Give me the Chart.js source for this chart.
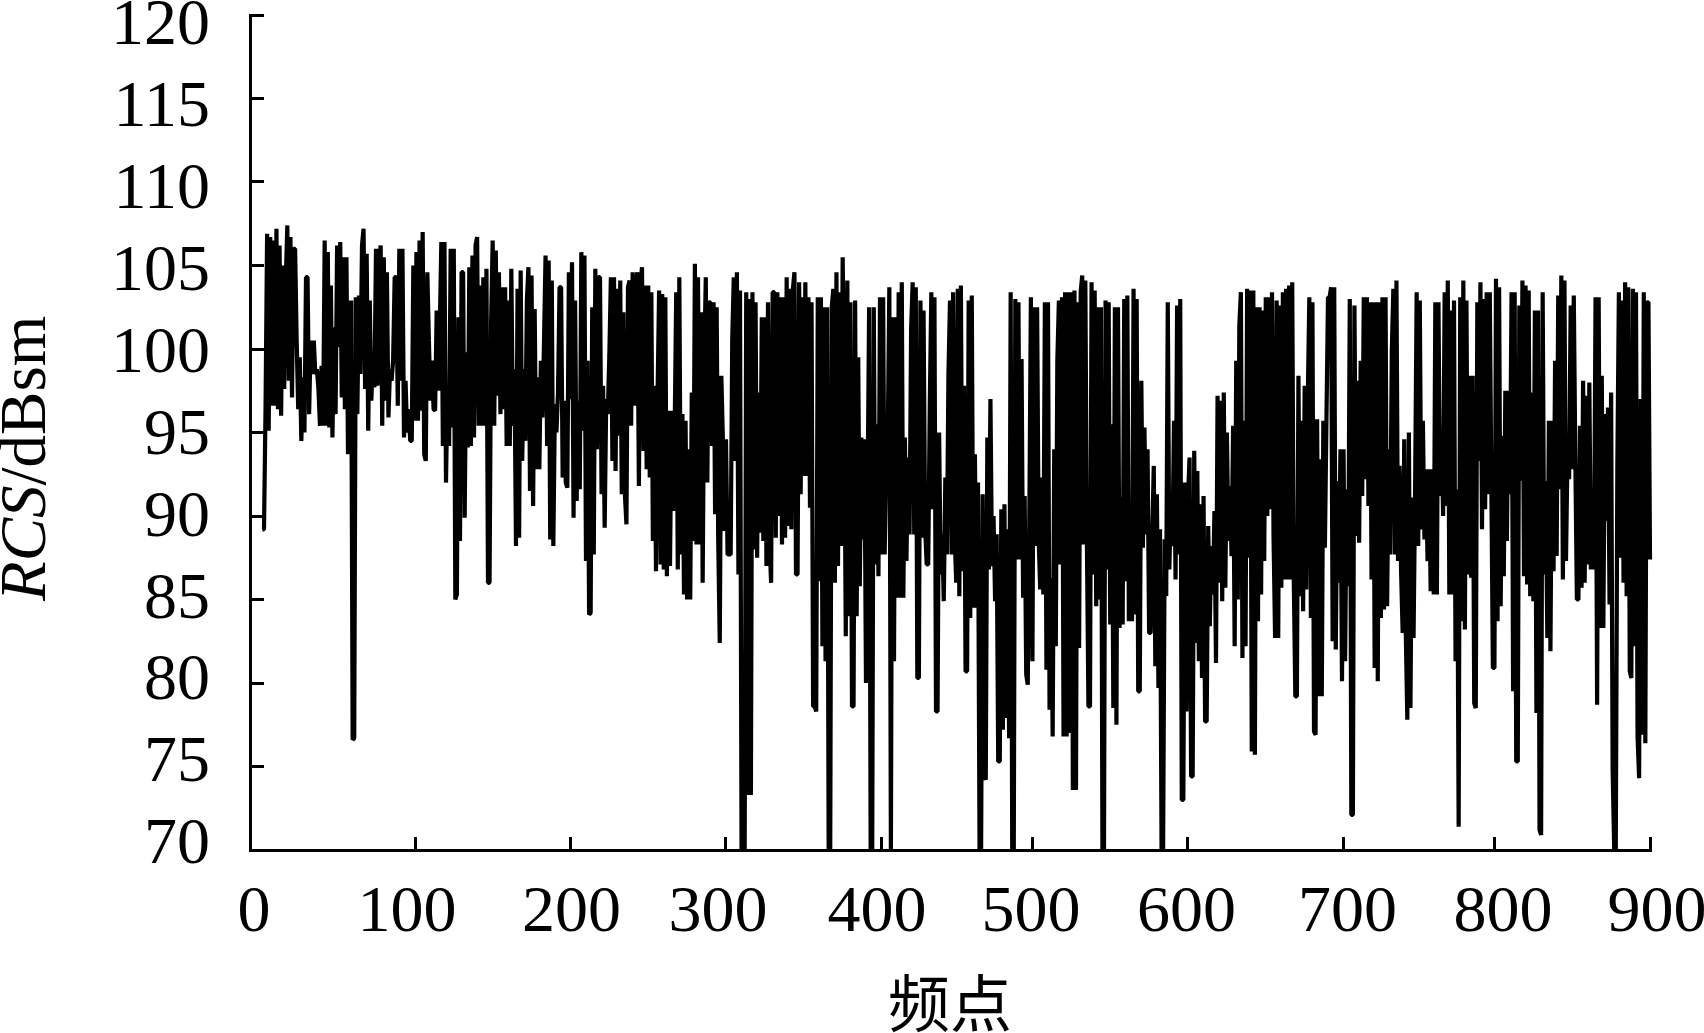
<!DOCTYPE html>
<html>
<head>
<meta charset="utf-8">
<title>RCS</title>
<style>
    html, body { margin: 0; padding: 0; background: #fff; }
    #chartBox { position: relative; width: 1704px; height: 1033px; }
</style>
<script src="https://cdn.jsdelivr.net/npm/chart.js@4/dist/chart.umd.js"></script>
</head>
<body>
<div id="chartBox"><canvas id="rcsChart" width="1704" height="1033"></canvas></div>
<script>
// values, one per frequency point, starting at firstPoint
const firstPoint = 8;
const rcsValues = [
    89.2,89.2,96.5,106.9,95.1,106.7,96.6,106.5,96.6,107.2,96.4,106.2,96,105,97.6,104.1,107.4,98.1,106.7,97.1,
    106,106,100.5,96.4,99.5,94.5,98.3,95,104.3,104.3,96.1,100.5,98.5,100.5,98.5,98.8,97.6,95.4,99,95.4,
    106.5,95.4,105.8,95.3,103.8,94.7,101.3,96.1,106.2,100.1,106.4,97.1,105.5,96.4,105.5,93.7,100.7,102.9,76.6,76.7,
    103.1,96.1,103.2,98.5,106.2,107.2,97.6,105.7,95.1,102.9,96.9,99.4,97.7,106,97.8,105.3,106.2,95.4,105.5,96.9,
    104.6,95.9,98.8,98.1,99.3,104.3,104.3,96.6,106,98.1,106,94.7,98.1,95,96.4,94.5,94.5,105,95.7,105.8,
    95.7,106.5,96.3,107,93.7,93.3,104.6,100.5,96.9,99.3,96.4,96.3,102.3,97.5,101.2,106.4,94.2,106.4,92,97.8,
    94.2,106,95.3,106,85,85.3,101.9,
    88.5,104.6,104.6,89.9,99.8,94.1,104.9,94.2,105.6,94.7,106.2,106.7,95.4,103.8,95.4,104.3,95.4,104.8,86,86,
    101.6,106.5,95.4,105.9,97.2,104.6,96.1,103.7,96.4,103.7,94.2,102.9,94.2,104.8,95.4,98.8,88.2,103.6,88.7,104.7,
    93.3,98.8,94.5,102.9,104.9,91.5,104.4,90.6,102.4,92.8,98.3,92.8,99.3,95.9,100.4,105.6,94.2,105.3,88.6,104.1,
    88.2,96.7,95,97.4,103.7,103.7,92.3,96.9,92,91.7,104.6,97,105.2,89.9,102.9,90.9,96.9,91.6,105.8,95.1,
    105.6,87.3,99.3,84.1,84.2,102.5,87.7,104.8,94,104.3,104.3,91.3,97.8,89.3,97,96.1,99.6,104.3,93.3,104.3,
    92.7,103.6,94.8,104.1,91.3,102.2,91.3,89.5,103.7,104.1,95.4,104.6,96.6,103.8,104.6,91.8,103.8,104.9,93.9,103.8,
    92.8,103.8,92.3,103.4,88.5,97.8,86.7,97.2,103.5,
    87.1,103.3,86.8,103.1,86.4,96.3,87,96.3,90.3,95.1,103.4,86.8,104.3,87.7,96.1,85.3,95.7,85,94,85,
    97.4,88.5,105.1,88.3,104.3,88.3,102.2,86,99,104.3,92,102.8,102.8,94.2,102.8,90.1,102.5,88.5,82.4,98.4,
    94.6,89.1,94.6,87.7,87.7,87.7,100.5,104.3,93.3,104.6,86.5,103.5,70,70,70,103.4,73.3,103,73.3,103.4,
    88,102.8,87.5,97.4,89,101.9,88.5,101.9,87,102.8,88.5,86,103.4,103.4,88.7,103.4,90,103.1,88.3,103.1,
    88.7,104.3,89.4,103.6,89.2,103.6,104.6,86.5,86.5,104,91.3,103.1,92.4,104,92.4,103.1,90.5,102.8,78.6,78.6,
    78.3,103.1,86.1,103.1,82.2,102.5,81.3,102.5,70,70,102.5,103.6,86,104.6,87,103.4,88.2,105.5,97.6,82.8,
    104.1,84,102.8,78.6,78.6,102.9,84,99.5,
    85.8,94.7,88.6,94.6,80,90.9,102.5,70,70,102.5,87.1,95.5,86.4,103.1,87.7,103.1,87.7,93,94.6,103.7,
    70,101.9,81.3,101.9,85.1,103.4,85.1,104,85.1,94.7,87.3,93.5,88.9,101.2,104,88.9,103.7,80.3,80.3,102.9,
    88.7,102.3,89.4,87.1,87.1,96.6,103.4,90.4,103.1,78.3,78.3,95,86.5,88.9,84.9,92.3,87.7,98.5,102.9,87.7,
    103.4,88.8,86,103.6,85.2,103.8,86.7,97.8,80.7,80.7,102.9,83.9,103.2,84.5,93.7,84.5,92,70,70,91.3,
    74.5,74.2,94.7,86.8,97,87,90,84.9,88.9,75.3,75.3,90.4,77.2,90.7,77.9,89.2,76.7,103.4,70,70,
    103,87.4,102.8,87.4,99.4,85.1,91.2,80.5,79.9,89.8,103.1,81.3,102.5,88.2,102.5,88.6,85.6,92.3,85.3,102.8,
    80.8,102.8,78.4,86.3,76.8,94,82.2,99.3,102.9,
    87.1,103.1,76.8,103.4,76.8,103.4,77,103.4,73.6,103.5,73.6,102.8,82.1,103.4,104.4,88.3,104.1,88.5,78.6,78.6,
    104,86.5,103.5,84.6,102.5,85,102.5,70,70,102.9,86.8,102.8,83.5,95.5,78.5,102.5,77.5,102.5,83.3,91.1,
    83.5,103,86.1,103.2,83.7,90.1,83.7,103.6,84.1,103,79.5,79.5,98.1,88.1,95.3,88.9,94,83,83,88.9,
    93,81,91.3,79.7,89.2,70,70,88.6,85.2,102.8,86.8,90.9,88.2,95.7,86.2,102.6,87.7,103,73,73,
    92,78.3,91.1,93.5,74.4,74.4,93.9,82.4,92.7,81.3,90.7,80.3,91.2,77.7,77.7,89.4,83.4,88.2,85.3,90.3,
    81.2,97.2,86,96.9,84.9,97.4,85.7,95,88.5,91.8,87.6,95.4,82.2,99.3,85,101.4,103.4,81.5,95.7,82.2,
    103.6,87.5,103.5,75.9,103.5,75.7,102.5,83.7,
    102.5,85.3,102.3,87.3,103.1,90,103.1,90.4,103.4,88.7,82.7,102.9,82.7,102.6,85.7,103.4,86.2,103.6,86.2,103.8,
    86.2,104,86.2,79.2,79.2,98.4,85.2,95.7,84.3,97.8,85.6,97,103.1,83.9,102.8,77.1,76.9,95.8,79.2,93.4,
    79.2,95.7,88.1,95.7,103.1,103.1,103.7,82.5,103.7,82,92.1,86,94,80.1,94,81.3,91.6,85.8,103,72.1,
    72.1,102.6,88.8,98.1,88.4,99.3,91.2,103.1,92.2,103.1,90.6,102.8,86.2,102.8,80.9,102.8,80.1,102.8,83.9,103.1,
    84.4,103.1,84.6,94,87.7,99.8,103.6,87.7,104.1,87.3,93,86.6,83,94.6,83,77.8,95,78.5,91.1,82.7,
    91.6,103.4,88.2,102.9,89.2,95.7,88.6,92.8,87.3,92.8,85.5,92.8,85.3,102.8,85.3,102.8,91.2,95.1,90,103.4,
    90.6,104.1,85.3,102.3,85.3,102.9,81.3,91.6,71.4,
    103.1,83.7,104.1,83.2,102.9,86.5,98.4,86.3,98.4,78.8,78.5,102.8,93.3,104,89.2,103,90.4,103.4,91.3,103.4,
    92,80.9,80.9,104.2,83.7,103.7,84.6,94.8,86.4,97.5,88.5,97.5,91.3,103.4,79.5,103.4,75.3,75.3,102.6,92.1,
    104.1,86.4,103.8,85.9,103.5,85.2,97.4,84.9,102.3,78.2,102.3,71.2,70.9,103.4,86.5,92.1,82.7,95.7,81.9,95.7,
    86.7,99.3,87.6,103.2,91.6,104.4,86.2,104.1,87.3,94.1,92.2,102.6,92.8,103.2,93.4,85,85,95.4,85.7,98.1,
    86,97.2,87.1,98,86.8,91.6,86.8,103.1,78.7,103.1,83.3,98.4,83.3,96.1,89.7,96.5,84.7,97.4,74.7,70,
    70,92.9,103.4,87.5,102.9,86,104,85.2,103.7,80.7,80.3,103.6,82.2,103.4,76.8,74.3,97,76.9,103.4,76.4,
    102.8,102.8,87.4
];

const yTickLabels = ['120', '115', '110', '105', '100', '95', '90', '85', '80', '75', '70'];
const xTickLabels = ['0', '100', '200', '300', '400', '500', '600', '700', '800', '900'];
const xAxisTitle = '频点';

// the printed axis is uneven: the marks and the numbers do not sit on round values
const xMarkAt = [0, 106.1, 205.9, 305.8, 405.8, 502.9, 602.8, 702.8, 799.9, 900];
const xNumberAt = [2.6, 100.9, 206.7, 300.8, 403, 502, 602, 705.5, 805.5, 904.5];

const serif = 'Liberation Serif';

function fixSize(scale, size) {
    if (scale.isHorizontal()) scale.height = size; else scale.width = size;
    scale.paddingLeft = scale.paddingRight = scale.paddingTop = scale.paddingBottom = 0;
}

// y title mixes italic and upright text, which a scale title can't do
const yTitlePlugin = {
    id: 'yTitle',
    afterDraw(chart) {
        const ctx = chart.ctx;
        ctx.save();
        ctx.translate(45, 601);
        ctx.rotate(-Math.PI / 2);
        ctx.fillStyle = '#000';
        ctx.textBaseline = 'alphabetic';
        ctx.font = `italic 65px "${serif}"`;
        ctx.fillText('RCS', 0, 0);
        const w = ctx.measureText('RCS').width;
        ctx.font = `65px "${serif}"`;
        ctx.fillText('/dBsm', w, 0);
        ctx.restore();
    }
};

new Chart(document.getElementById('rcsChart').getContext('2d'), {
    type: 'line',
    data: {
        datasets: [{
            data: rcsValues.map((y, i) => ({ x: firstPoint + i, y: y })),
            xAxisID: 'x',
            yAxisID: 'y',
            borderColor: '#000',
            borderWidth: 4.2,
            borderJoinStyle: 'bevel',
            pointRadius: 0,
            tension: 0,
            clip: false
        }]
    },
    options: {
        responsive: false,
        animation: false,
        layout: { padding: { top: 15, right: 54, left: 0, bottom: 0 } },
        plugins: { legend: { display: false }, tooltip: { enabled: false } },
        scales: {
            x: {
                type: 'linear',
                min: 0,
                max: 900,
                afterBuildTicks: s => { s.ticks = xMarkAt.map(v => ({ value: v })); },
                afterFit: s => fixSize(s, 0),
                ticks: { display: false },
                border: { display: true, color: '#000', width: 3 },
                grid: { drawOnChartArea: false, tickLength: -13, tickWidth: 3, tickColor: '#000' }
            },
            y: {
                type: 'linear',
                min: 70,
                max: 120,
                ticks: { display: false, stepSize: 5 },
                afterFit: s => fixSize(s, 0),
                border: { display: true, color: '#000', width: 3 },
                grid: { drawOnChartArea: false, tickLength: -14, tickWidth: 3, tickColor: '#000' }
            },
            // the numbers get their own axes, they drift away from the marks in the original
            xNumbers: {
                type: 'linear',
                position: 'bottom',
                weight: 1,
                min: 0,
                max: 900,
                afterBuildTicks: s => { s.ticks = xNumberAt.map(v => ({ value: v })); },
                afterFit: s => fixSize(s, 183),
                border: { display: false },
                grid: { display: false, drawTicks: false },
                ticks: {
                    autoSkip: false,
                    maxRotation: 0,
                    padding: 24,
                    color: '#000',
                    font: { family: serif, size: 66 },
                    callback: (v, i) => xTickLabels[i]
                },
                title: {
                    display: true,
                    text: xAxisTitle,
                    color: '#000',
                    font: { family: 'Noto Sans CJK SC', size: 62 },
                    padding: { top: 0, bottom: -8 }
                }
            },
            yNumbers: {
                type: 'linear',
                position: 'left',
                weight: 1,
                min: 69.75,
                max: 120.73,
                afterBuildTicks: s => { s.ticks = yTickLabels.map(Number).reverse().map(v => ({ value: v })); },
                afterFit: s => fixSize(s, 250),
                border: { display: false },
                grid: { display: false, drawTicks: false },
                ticks: {
                    autoSkip: false,
                    padding: 40,
                    color: '#000',
                    font: { family: serif, size: 66 },
                    callback: v => String(v)
                }
            }
        }
    },
    plugins: [yTitlePlugin]
});
</script>
</body>
</html>
